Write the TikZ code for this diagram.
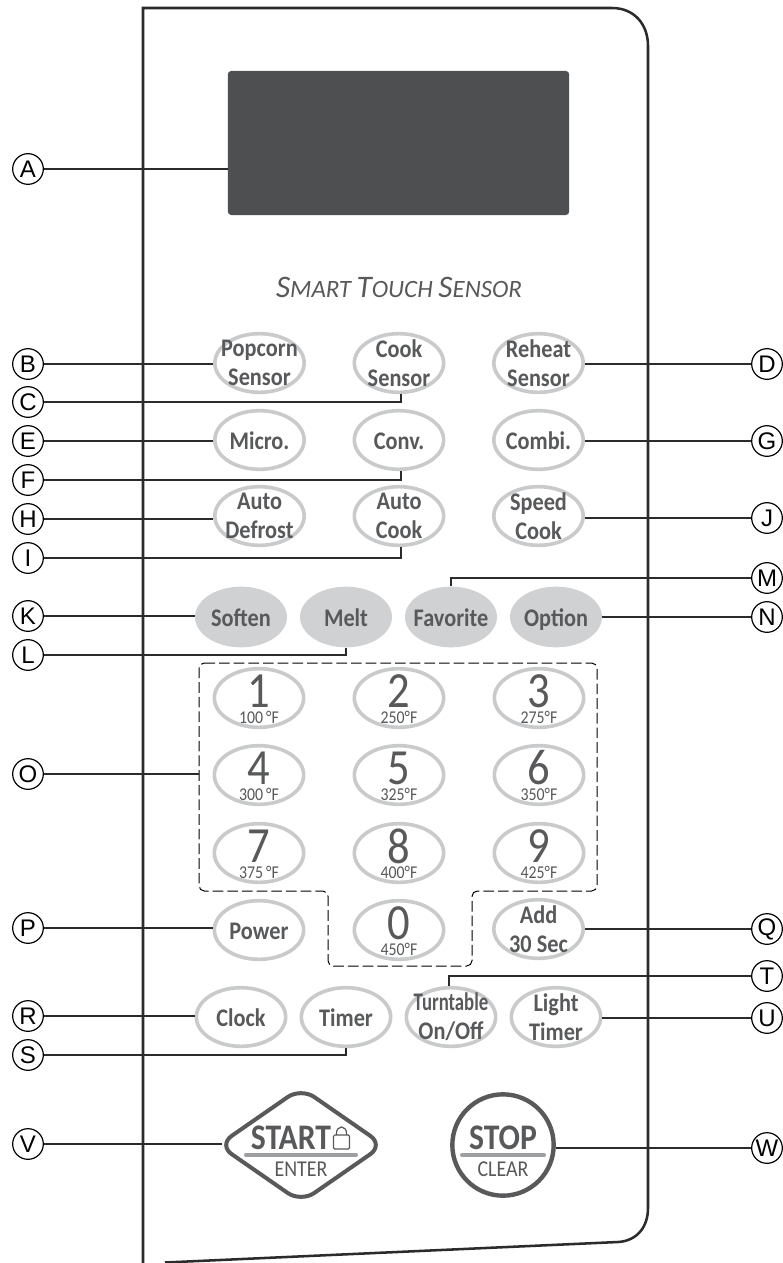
\documentclass[tikz,border=0pt]{standalone}
\usepackage{fontspec}
\setmainfont{Carlito}
\newfontfamily\lblfont{Liberation Sans}
\newfontfamily\keyfont[FakeStretch=0.88]{Carlito}
\newfontfamily\condfont[FakeStretch=0.74]{Carlito}
\usetikzlibrary{shapes.geometric}
\definecolor{txt}{HTML}{58595B}
\definecolor{ring}{HTML}{C9CACB}
\definecolor{softfill}{HTML}{D0D1D3}
\definecolor{disp}{HTML}{4D4F50}
\definecolor{bar}{HTML}{9D9FA2}
\definecolor{wire}{HTML}{2B2B2B}
\tikzset{
  btn/.style={ellipse,draw=ring,line width=2.7pt,minimum width=67pt,minimum height=44pt,inner sep=0pt},
  softbtn/.style={ellipse,fill=softfill,minimum width=69pt,minimum height=45.5pt,inner sep=0pt},
  btntext/.style={text=txt,font=\keyfont\fontsize{19}{21.5}\selectfont\bfseries,align=center,inner sep=0pt},
  digit/.style={text=txt,font=\keyfont\fontsize{38}{38}\selectfont,inner sep=0pt},
  temp/.style={text=txt,font=\keyfont\fontsize{13.5}{14}\selectfont,inner sep=0pt},
  tag/.style={circle,draw=black,line width=0.9pt,minimum size=23pt,inner sep=0pt,font=\lblfont\fontsize{18}{18}\selectfont},
  wirel/.style={draw=wire,line width=1.05pt},
  panel/.style={draw=wire,line width=1.9pt}
}
\newcommand{\btnk}[4]{\node[btn] (#1) at (#2,#3) {}; \node[btntext] (#1t) at (#2,#3) {#4};}
\newcommand{\oneline}[4]{\node[btn] (#1) at (#2,#3) {}; \node[btntext,anchor=base] (#1t) at (#2,#3+9) {#4};}
\newcommand{\softk}[4]{\node[softbtn] (#1) at (#2,#3) {}; \node[btntext,anchor=base] (#1t) at (#2,#3+9) {#4};}
\newcommand{\numk}[5]{\node[btn] (#1) at (#2,#3) {};
  \node[digit] (#1d) at (#2,#3-7) {#4};
  \node[temp] (#1f) at (#2,#3+19) {#5};}
\newcommand{\tagl}[3]{\node[tag] (#1) at (28,#2) {#3};}
\newcommand{\tagr}[3]{\node[tag] (#1) at (767,#2) {#3};}
\begin{document}
\begin{tikzpicture}[x=0.75pt,y=-0.75pt]
\useasboundingbox (0,0) rectangle (782,1263);
\fill[white] (0,0) rectangle (782,1263);
% panel
\draw[panel] (143,1263) -- (143,8) -- (612,8) .. controls (634,8) and (648,24) .. (648,46)
  -- (648,1208) .. controls (648,1228) and (636,1241) .. (618,1242) -- (165,1262.5);
% display
\node[draw=none,fill=disp,rounded corners=2.5pt,minimum width=256pt,minimum height=108pt,inner sep=0pt] (display) at (398.5,143) {};
\node[text=txt,inner sep=0pt,font=\itshape] (brand) at (399,287) {\fontsize{23.5}{24}\selectfont S\fontsize{18.7}{24}\selectfont MART \fontsize{23.5}{24}\selectfont T\fontsize{18.7}{24}\selectfont OUCH \fontsize{23.5}{24}\selectfont S\fontsize{18.7}{24}\selectfont ENSOR};
% keys
\btnk{popcorn}{259.5}{363}{Popcorn\\Sensor}
\btnk{cook}{399}{363}{Cook\\Sensor}
\btnk{reheat}{538.5}{363}{Reheat\\Sensor}
\oneline{micro}{259.5}{440}{Micro.}
\oneline{conv}{399}{440}{Conv.}
\oneline{combi}{538.5}{440}{Combi.}
\btnk{defrost}{259.5}{516}{Auto\\Defrost}
\btnk{autocook}{399}{516}{Auto\\Cook}
\btnk{speed}{538.5}{516}{Speed\\Cook}
\softk{soften}{241}{617}{Soften}
\softk{melt}{346}{617}{Melt}
\softk{favorite}{451}{617}{Favorite}
\softk{option}{556}{617}{Option}
\numk{n1}{259}{698}{1}{100\,°F}
\numk{n2}{399}{698}{2}{250°F}
\numk{n3}{539}{698}{3}{275°F}
\numk{n4}{259}{775}{4}{300\,°F}
\numk{n5}{399}{775}{5}{325°F}
\numk{n6}{539}{775}{6}{350°F}
\numk{n7}{259}{853}{7}{375\,°F}
\numk{n8}{399}{853}{8}{400°F}
\numk{n9}{539}{853}{9}{425°F}
\numk{n0}{399}{930}{0}{450°F}
\oneline{power}{259}{930}{Power}
\btnk{add}{538.5}{929}{Add\\30 Sec}
\oneline{clock}{241}{1017}{Clock}
\oneline{timer}{346}{1017}{Timer}
\node[btn] (turn) at (451,1017) {};
\node[btntext,font=\condfont\fontsize{19}{21.5}\selectfont\bfseries] (turnt) at (451,1017) {Turntable\\{\keyfont\bfseries On/Off}};
\btnk{light}{556}{1017}{Light\\Timer}
% number group outline
\coordinate (grp) at (199,663);
\draw[black,line width=0.75pt,dash pattern=on 8pt off 3pt,rounded corners=4pt] (grp) -- (597,663) -- (597,891) -- (472,891) -- (472,966) -- (328,966) -- (328,891) -- (199,891) -- cycle;
% start / stop
\node[diamond,draw=txt,line width=3pt,rounded corners=12pt,minimum width=125pt,minimum height=87pt,inner sep=0pt] (start) at (301,1145) {};
\node[text=txt,inner sep=0pt,font=\keyfont\fontsize{27}{27}\selectfont\bfseries,anchor=base] (startt) at (291,1149) {START};
\node[text=txt,inner sep=0pt,font=\keyfont\fontsize{17}{17}\selectfont] (entert) at (301,1169) {ENTER};
\draw[txt,line width=0.9pt,rounded corners=1pt] (333.5,1135) rectangle (349.5,1149);
\draw[txt,line width=0.9pt] (336.5,1135) -- (336.5,1133) arc[start angle=180,end angle=0,x radius=5,y radius=-6] -- (346.5,1135);
\draw[bar,line width=3pt,line cap=round] (246,1155) -- (356,1155);
\node[circle,draw=txt,line width=3.3pt,minimum size=76pt,inner sep=0pt] (stop) at (503,1145) {};
\node[text=txt,inner sep=0pt,font=\keyfont\fontsize{27}{27}\selectfont\bfseries,anchor=base] (stopt) at (503,1149) {STOP};
\node[text=txt,inner sep=0pt,font=\keyfont\fontsize{17}{17}\selectfont] (cleart) at (503,1169) {CLEAR};
\draw[bar,line width=3pt,line cap=round] (462,1155) -- (544,1155);
% tags
\tagl{lA}{169}{A}
\tagl{lB}{364}{B}
\tagl{lC}{402}{C}
\tagl{lE}{441}{E}
\tagl{lF}{480}{F}
\tagl{lH}{519}{H}
\tagl{lI}{558}{I}
\tagl{lK}{616}{K}
\tagl{lL}{655}{L}
\tagl{lO}{774}{O}
\tagl{lP}{928}{P}
\tagl{lR}{1016}{R}
\tagl{lS}{1055}{S}
\tagl{lV}{1144}{V}
\tagr{lD}{364}{D}
\tagr{lG}{441}{G}
\tagr{lJ}{518}{J}
\tagr{lM}{578}{M}
\tagr{lN}{617}{N}
\tagr{lQ}{929}{Q}
\tagr{lT}{976}{T}
\tagr{lU}{1018}{U}
\tagr{lW}{1148}{W}
% connectors
\draw[wirel] (lA.east) -- (lA.east -| display.west);
\draw[wirel] (lB.east) -- (lB.east -| popcorn.west);
\draw[wirel] (lC.east) -| ([xshift=1.5pt]cook.south);
\draw[wirel] (lE.east) -- (lE.east -| micro.west);
\draw[wirel] (lF.east) -| ([xshift=1.5pt]conv.south);
\draw[wirel] (lH.east) -- (lH.east -| defrost.west);
\draw[wirel] (lI.east) -| ([xshift=1.5pt]autocook.south);
\draw[wirel] (lK.east) -- (lK.east -| soften.west);
\draw[wirel] (lL.east) -| (melt.south);
\draw[wirel] (lO.east) -- (lO.east -| grp);
\draw[wirel] (lP.east) -- (lP.east -| power.west);
\draw[wirel] (lR.east) -- (lR.east -| clock.west);
\draw[wirel] (lS.east) -| (timer.south);
\draw[wirel] (lV.east) -- ([xshift=5pt]lV.east -| start.west);
\draw[wirel] (lD.west) -- (lD.west -| reheat.east);
\draw[wirel] (lG.west) -- (lG.west -| combi.east);
\draw[wirel] (lJ.west) -- (lJ.west -| speed.east);
\draw[wirel] (lM.west) -| (favorite.north);
\draw[wirel] (lN.west) -- (lN.west -| option.east);
\draw[wirel] (lQ.west) -- (lQ.west -| add.east);
\draw[wirel] (lT.west) -| ([xshift=-1.5pt]turn.north);
\draw[wirel] (lU.west) -- (lU.west -| light.east);
\draw[wirel] (lW.west) -- (lW.west -| stop.east);
\end{tikzpicture}
\end{document}
